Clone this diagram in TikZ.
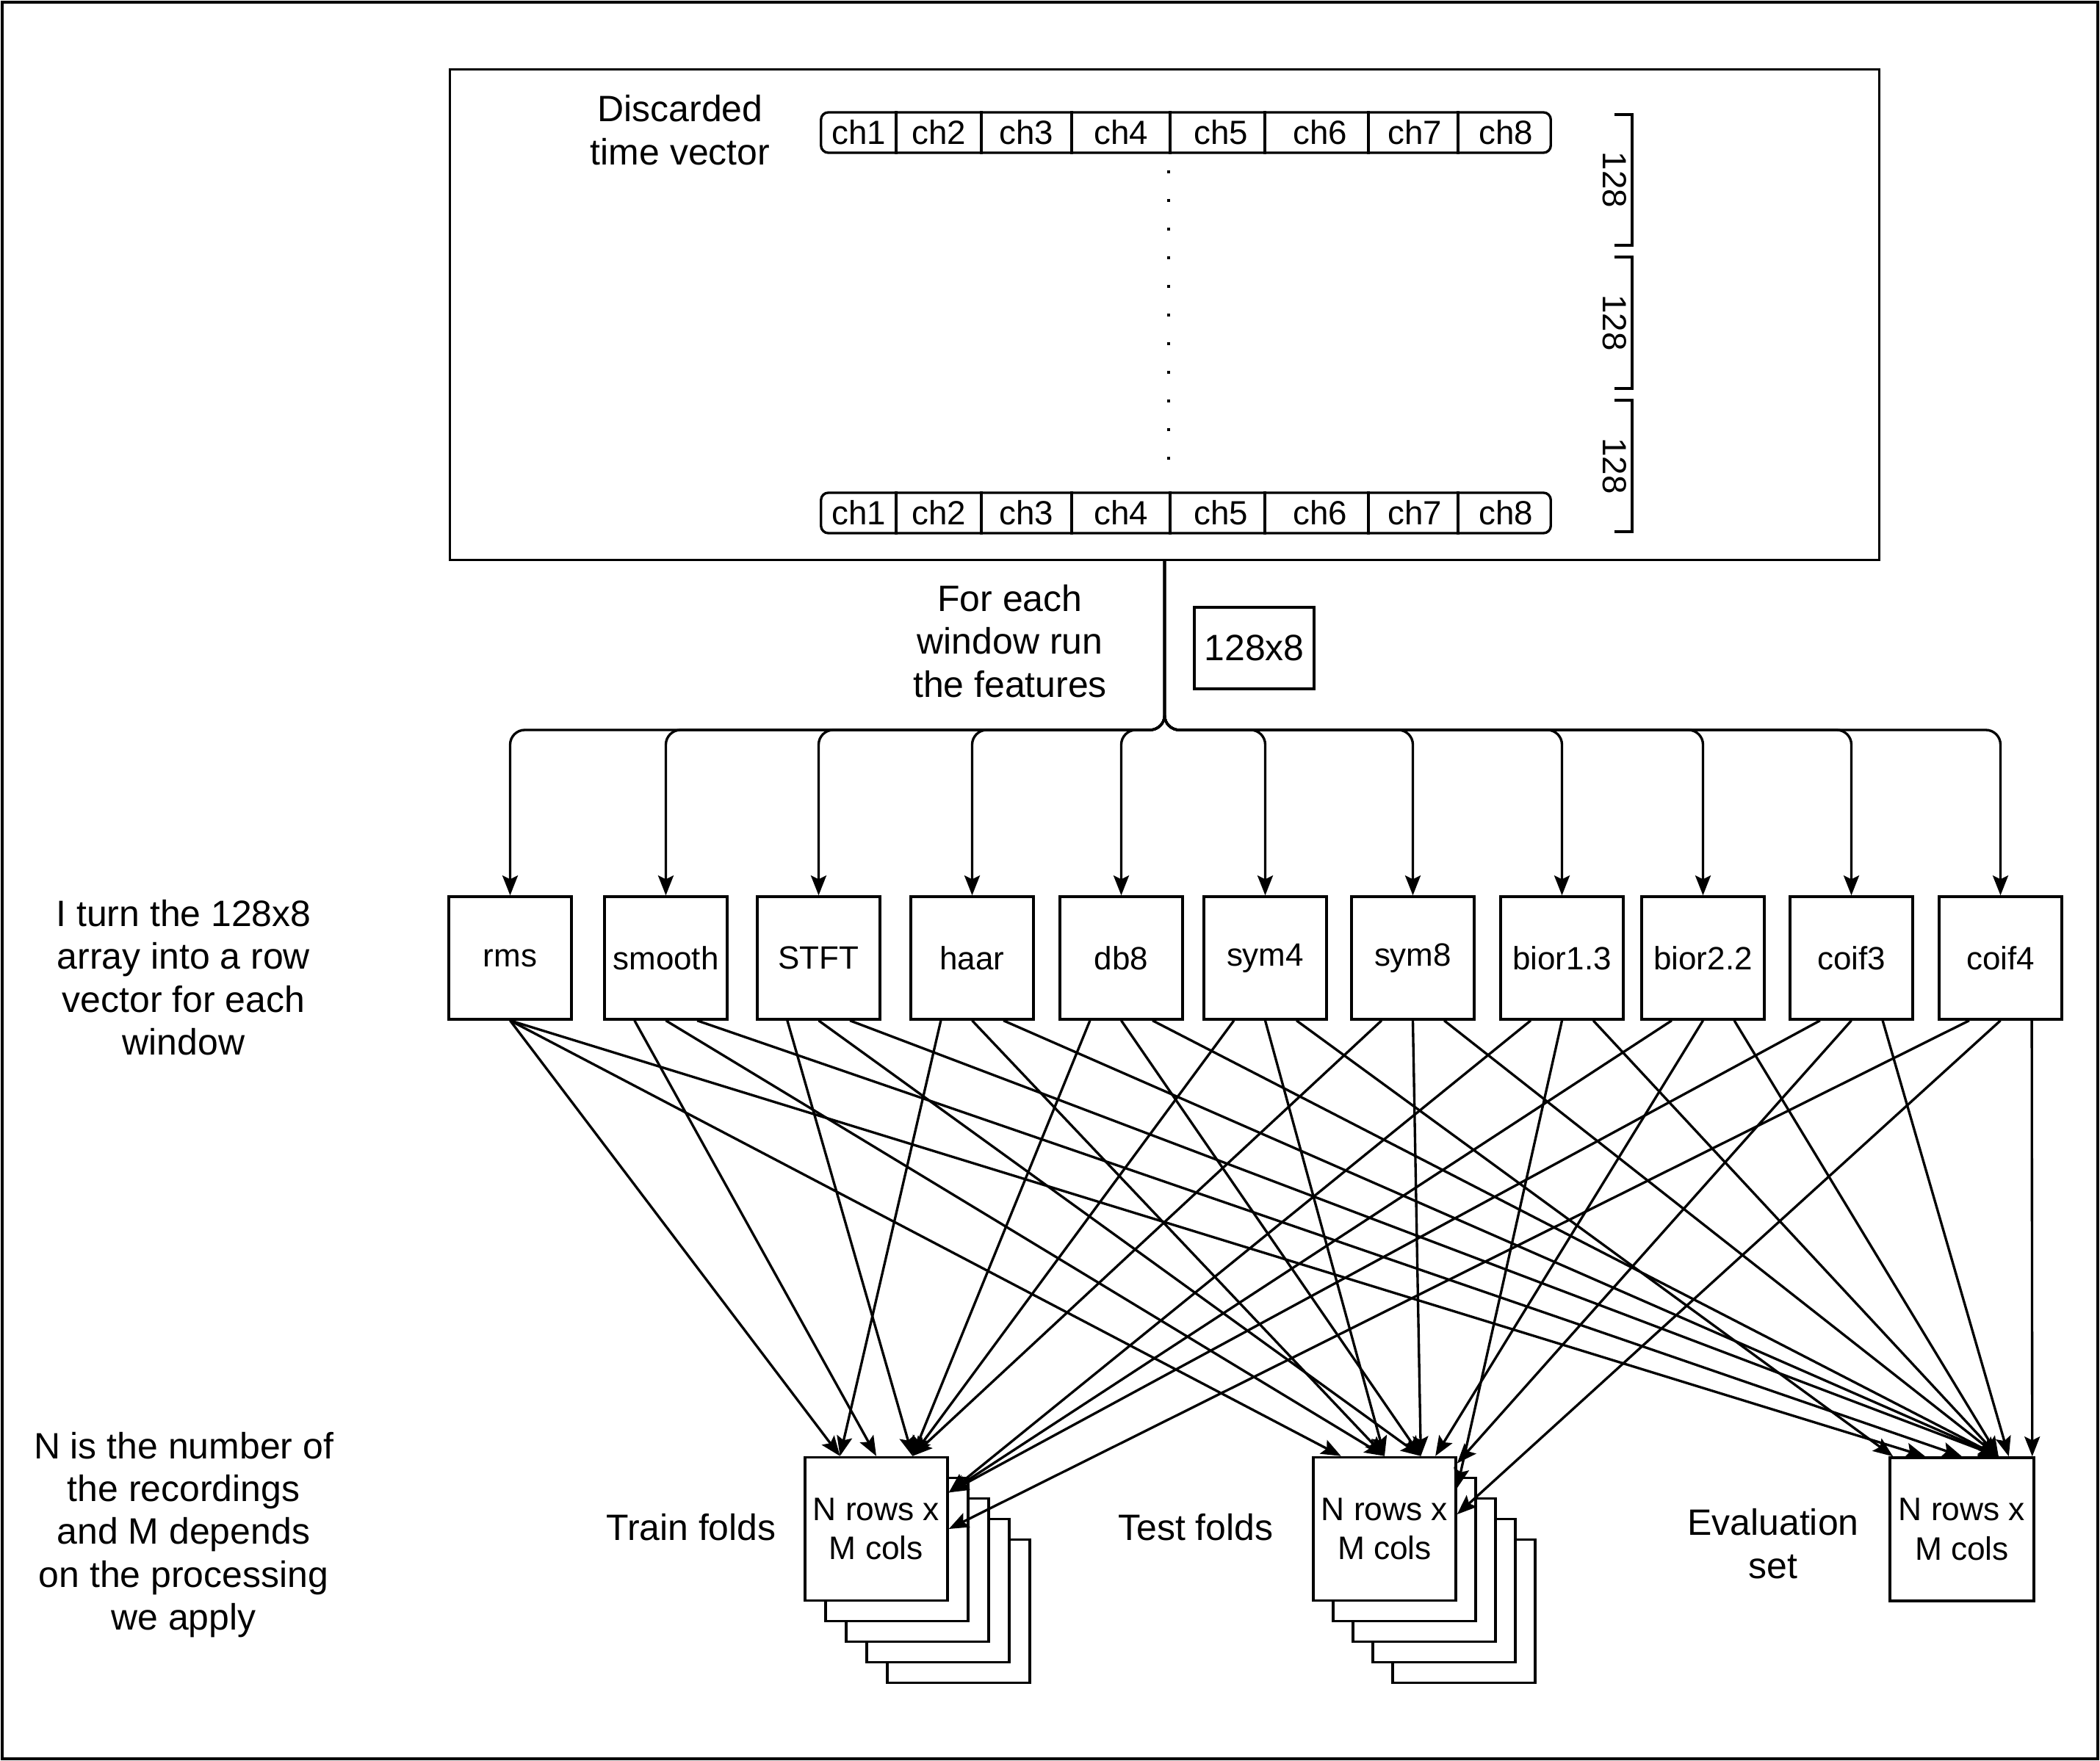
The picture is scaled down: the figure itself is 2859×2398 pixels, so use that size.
\documentclass[tikz,border=0pt]{standalone}
\usepackage{fontspec}
\setmainfont{Liberation Sans}
\usetikzlibrary{arrows.meta,calc}
\begin{document}
\begin{tikzpicture}[x=0.01cm,y=-0.01cm,
  line width=0.95pt,
  txt/.style={font=\fontsize{14.2}{16.6}\selectfont, align=center, inner sep=0pt},
  box/.style={draw, fill=white, inner sep=0pt},
  feat/.style={box, minimum width=1.67cm, minimum height=1.67cm, font=\fontsize{12.5}{15}\selectfont},
  sheet/.style={box, minimum width=1.94cm, minimum height=1.95cm, align=center, font=\fontsize{12.6}{15.1}\selectfont},
  chl/.style={font=\fontsize{13}{15.5}\selectfont, inner sep=0pt},
  bar/.style={draw, rounded corners=0.1cm, minimum width=9.93cm, minimum height=0.55cm, inner sep=0pt},
  arr/.style={-{Stealth[length=0.27cm,width=0.21cm,inset=0.05cm]}},
]
\useasboundingbox (0,0) rectangle (2859,2398);
\draw (3,3) rectangle (2856,2395);

% ---------- recording window ----------
\node[draw, minimum width=19.45cm, minimum height=6.67cm, inner sep=0pt] (win) at (1585.5,428.5) {};
\node[txt] (disc) at (926,177) {Discarded\\time vector};

\node[bar] (rowA) at (1614.5,180.5) {};
\node[bar] (rowB) at (1614.5,698.5) {};
\foreach \x in {1220,1336,1459,1593,1722,1863,1985} {
  \draw (rowA.north -| \x,0) -- (rowA.south -| \x,0);
  \draw (rowB.north -| \x,0) -- (rowB.south -| \x,0);
}
\foreach \c/\x in {1/1169,2/1278,3/1397.5,4/1526,5/1662,6/1797,7/1926,8/2050} {
  \node[chl] (chA\c) at (\x,180.5) {ch\c};
  \node[chl] (chB\c) at (\x,698.5) {ch\c};
}
% rows in between
\draw[line width=0.04cm, dash pattern=on 0.04cm off 0.35cm] (rowA.south -| 1591,0) ++(0,22) -- ($(rowB.north -| 1591,0)+(0,-42)$);

% window length brackets
\foreach \a/\b [count=\i] in {156/334,350/529,545/724} {
  \draw (2198,\a) -- (2222,\a) -- (2222,\b) -- (2198,\b);
  \node[chl, rotate=-90] (len\i) at (2198,{(\a+\b)/2}) {128};
}

% ---------- feature extraction ----------
\node[txt] (each) at (1375,873) {For each\\window run\\the features};
\node[box, minimum width=1.63cm, minimum height=1.11cm, font=\fontsize{14.2}{16.6}\selectfont] (dim) at (1707.5,882.5) {128x8};
\coordinate (hub) at (1585.5,994);

\foreach \n/\l/\x in {rms/rms/611, smooth/smooth/823, stft/STFT/1031, haar/haar/1240,
    db8/db8/1443, symA/sym4/1639, symB/sym8/1840, biorA/bior1.3/2043,
    biorB/bior2.2/2235, coifA/coif3/2437, coifB/coif4/2640} {
  \node[feat] (\n) at (\x+83.5,1304.5) {\l};
  \draw[arr, rounded corners=0.2cm] (win.south) -- (hub) -| (\n.north);
  \coordinate (\n-a) at ($(\n.south west)!0.25!(\n.south east)$);
  \coordinate (\n-b) at ($(\n.south west)!0.5!(\n.south east)$);
  \coordinate (\n-c) at ($(\n.south west)!0.75!(\n.south east)$);
}
\coordinate (rms-a) at (rms.south);
\coordinate (rms-c) at (rms.south);

\node[txt] (rowtxt) at (250,1331) {I turn the 128x8\\array into a row\\vector for each\\window};

% ---------- data sets ----------
\foreach \k in {4,3,2,1} {
  \node[sheet] (trn\k) at (1193+28*\k,2082+28*\k) {};
  \node[sheet] (tst\k) at (1885+27*\k,2082+28*\k) {};
}
\node[sheet] (trn) at (1193,2082) {N rows x\\M cols};
\node[sheet] (tst) at (1885,2082) {N rows x\\M cols};
\node[sheet, minimum width=1.96cm] (evl) at (2671,2082.5) {N rows x\\M cols};

\node[txt] (trnl) at (941,2080) {Train folds};
\node[txt] (tstl) at (1628,2080) {Test folds};
\node[txt] (evll) at (2414,2102) {Evaluation\\set};
\node[txt] (ntxt) at (250,2090) {N is the number of\\the recordings\\and M depends\\on the processing\\we apply};

% entry points
\coordinate (Ta) at ($(trn.north west)!0.25!(trn.north east)$);
\coordinate (Tb) at ($(trn.north west)!0.5!(trn.north east)$);
\coordinate (Tc) at ($(trn.north west)!0.75!(trn.north east)$);
\coordinate (Td) at ($(trn.north east)!0.25!(trn.south east)$);
\coordinate (Te) at ($(trn.north east)!0.5!(trn.south east)$);

\coordinate (Sa) at ($(tst.north west)!0.2!(tst.north east)$);
\coordinate (Sb) at ($(tst.north west)!0.5!(tst.north east)$);
\coordinate (Sc) at ($(tst.north west)!0.75!(tst.north east)$);
\coordinate (Sd) at ($(tst.north west)!0.85!(tst.north east)$);
\coordinate (Se) at ($(tst.north east)!0.05!(tst.south east)$);
\coordinate (Sf) at ($(tst.north east)!0.22!(tst.south east)$);
\coordinate (Sg) at ($(tst.north east)!0.4!(tst.south east)$);

\coordinate (Ea) at ($(evl.north west)!0.03!(evl.north east)$);
\coordinate (Eb) at ($(evl.north west)!0.25!(evl.north east)$);
\coordinate (Ec) at ($(evl.north west)!0.5!(evl.north east)$);
\coordinate (Ed) at ($(evl.north west)!0.75!(evl.north east)$);
\coordinate (Ee) at ($(evl.north west)!0.82!(evl.north east)$);
\coordinate (Ef) at ($(evl.north west)!0.98!(evl.north east)$);

\foreach \s/\t in {rms-a/Ta, rms-b/Sa, rms-c/Eb,
    smooth-a/Tb, smooth-b/Sb, smooth-c/Ec,
    stft-a/Tc, stft-b/Sc, stft-c/Ed,
    haar-a/Ta, haar-b/Sb, haar-c/Ed,
    db8-a/Tc, db8-b/Sc, db8-c/Ed,
    symA-a/Tc, symA-b/Sb, symA-c/Ea,
    symB-a/Tc, symB-b/Sc, symB-c/Ed,
    biorA-a/Td, biorA-b/Sf, biorA-c/Ed,
    biorB-a/Td, biorB-b/Sd, biorB-c/Ed,
    coifA-a/Td, coifA-b/Se, coifA-c/Ee,
    coifB-a/Te, coifB-b/Sg, coifB-c/Ef}
  \draw[arr] (\s) -- (\t);
\end{tikzpicture}
\end{document}
